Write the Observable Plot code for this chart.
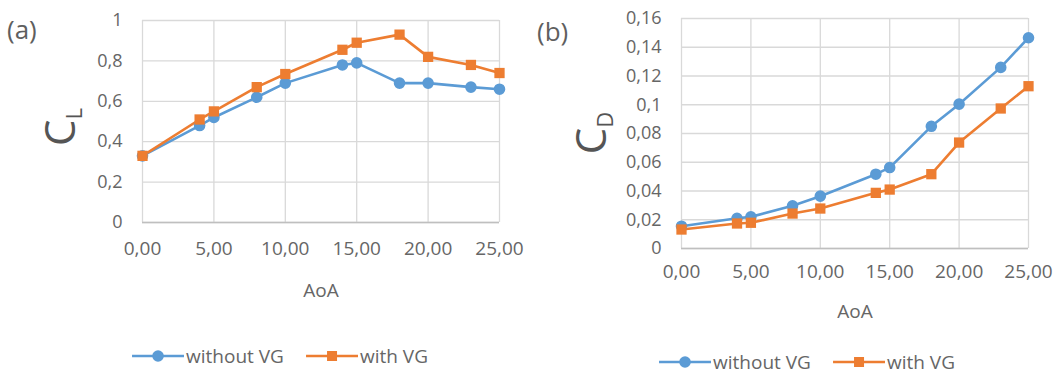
<!DOCTYPE html>
<html>
<head>
<meta charset="utf-8">
<script src="https://cdn.jsdelivr.net/npm/d3@7"></script>
<script src="https://cdn.jsdelivr.net/npm/@observablehq/plot@0.6"></script>
<style>
  html, body { margin: 0; padding: 0; background: #fff; }
  #wrap { position: relative; width: 1063px; height: 374px; overflow: hidden; font-family: "Open Sans", sans-serif; color: #666; }
  .panel { position: absolute; top: 0; }
  .tag { position: absolute; font-size: 26px; color: #5f5f5f; line-height: 1; }
  .ylab { position: absolute; transform: translate(-50%, -50%) rotate(-90deg); white-space: nowrap; color: #555; line-height: 1; }
  .ylab .big { font-size: 42px; }
  .ylab sub { font-size: 22px; vertical-align: -0.35em; }
  .legend { position: absolute; transform: translate(-50%, -50%); display: flex; gap: 22px; font-size: 19px; color: #666; white-space: nowrap; align-items: center; }
  .legend .item { display: flex; align-items: center; gap: 2px; }
</style>
</head>
<body>
<div id="wrap">
  <div id="pa" class="panel" style="left:0px"></div>
  <div id="pb" class="panel" style="left:530px"></div>
</div>
<script>
// ---- data ----
const aoa = [0, 4, 5, 8, 10, 14, 15, 18, 20, 23, 25];
const series = ["without VG", "with VG"];
const seriesColors = ["#5B9BD5", "#ED7D31"];
const seriesSymbols = ["circle", "square"];
const clWithout = [0.33, 0.48, 0.52, 0.62, 0.69, 0.78, 0.79, 0.69, 0.69, 0.67, 0.66];
const clWith    = [0.33, 0.51, 0.55, 0.67, 0.735, 0.855, 0.89, 0.93, 0.82, 0.78, 0.74];
const cdWithout = [0.0155, 0.021, 0.022, 0.0297, 0.0364, 0.0517, 0.0563, 0.085, 0.1004, 0.126, 0.1466];
const cdWith    = [0.0132, 0.0174, 0.0179, 0.0243, 0.0278, 0.0387, 0.041, 0.0517, 0.0737, 0.0974, 0.1129];
const xTicks = [0, 5, 10, 15, 20, 25];
const clTicks = [0, 0.2, 0.4, 0.6, 0.8, 1];
const cdTicks = [0, 0.02, 0.04, 0.06, 0.08, 0.1, 0.12, 0.14, 0.16];
const xLabel = "AoA";

const fmtX = d => d.toFixed(2).replace(".", ",");
const fmtY = d => String(+d.toFixed(2)).replace(".", ",");

function rows(a, b) {
  return aoa.flatMap((x, i) => [
    {aoa: x, v: a[i], s: series[0]},
    {aoa: x, v: b[i], s: series[1]}
  ]);
}

function panel({data, yDomain, yTicks, width, height, ml, mr, mt, mb, xPad, labelOffset}) {
  return Plot.plot({
    width, height,
    marginLeft: ml, marginRight: mr, marginTop: mt, marginBottom: mb,
    style: {fontFamily: '"Open Sans", sans-serif', fontSize: "18px", color: "#666", background: "transparent", overflow: "visible"},
    x: {domain: [0, 25]},
    y: {domain: yDomain},
    color: {domain: series, range: seriesColors},
    symbol: {domain: series, range: seriesSymbols},
    marks: [
      Plot.gridX(xTicks, {stroke: "#d9d9d9", strokeOpacity: 1, strokeWidth: 1.3}),
      Plot.gridY(yTicks, {stroke: "#d9d9d9", strokeOpacity: 1, strokeWidth: 1.3}),
      Plot.ruleY([yDomain[0]], {stroke: "#bfbfbf", strokeWidth: 1.3}),
      Plot.axisX(xTicks, {tickSize: 0, tickPadding: xPad, tickFormat: fmtX, label: xLabel, labelAnchor: "center", labelArrow: "none", labelOffset, fontSize: 19}),
      Plot.axisY(yTicks, {tickSize: 0, tickPadding: 20, tickFormat: fmtY, label: null}),
      Plot.line(data, {x: "aoa", y: "v", stroke: "s", z: "s", strokeWidth: 2.6}),
      Plot.dot(data, {x: "aoa", y: "v", fill: "s", symbol: "s", r: 5.8, stroke: "none"})
    ]
  });
}

document.getElementById("pa").append(panel({
  data: rows(clWithout, clWith), yDomain: [0, 1], yTicks: clTicks,
  width: 530, height: 320, ml: 142, mr: 31, mt: 20, mb: 98, xPad: 19, labelOffset: 74
}));
document.getElementById("pb").append(panel({
  data: rows(cdWithout, cdWith), yDomain: [0, 0.16], yTicks: cdTicks,
  width: 533, height: 330, ml: 151, mr: 35, mt: 18, mb: 82, xPad: 16, labelOffset: 69
}));

const wrap = document.getElementById("wrap");
function addHTML(html) { wrap.insertAdjacentHTML("beforeend", html); }
addHTML('<div class="tag" style="left:7px;top:16px">(a)</div>');
addHTML('<div class="tag" style="left:537px;top:18px">(b)</div>');
addHTML('<div class="ylab" style="left:61px;top:127px"><span class="big">C</span><sub>L</sub></div>');
addHTML('<div class="ylab" style="left:592px;top:133px"><span class="big">C</span><sub>D</sub></div>');

function swatch(i) {
  const c = seriesColors[i];
  const m = seriesSymbols[i] === "circle"
    ? `<circle cx="26" cy="8" r="5.8" fill="${c}"/>`
    : `<rect x="21" y="3" width="10" height="10" fill="${c}"/>`;
  return `<svg width="52" height="16"><line x1="0" y1="8" x2="52" y2="8" stroke="${c}" stroke-width="2.6"/>${m}</svg>`;
}
function legend(x, y) {
  const items = series.map((s, i) => `<div class="item">${swatch(i)}<span>${s}</span></div>`).join("");
  addHTML(`<div class="legend" style="left:${x}px;top:${y}px">${items}</div>`);
}
legend(280, 356);
legend(807, 362);
</script>
</body>
</html>
